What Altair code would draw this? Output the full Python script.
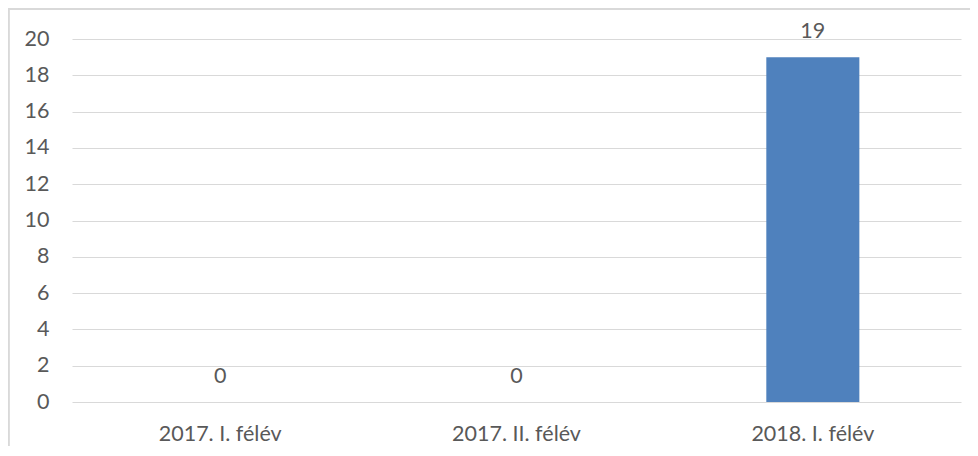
import altair as alt
import pandas as pd

categories = ["2017. I. félév", "2017. II. félév", "2018. I. félév"]
values = [0, 0, 19]

df = pd.DataFrame({"cat": categories, "val": values})

W, H = 889, 363
FONT = "Lato"
FS = 21.5
GRAY = "#595959"

x_enc = alt.X("cat:N", sort=categories, title=None,
              scale=alt.Scale(paddingInner=0.686, paddingOuter=0.343),
              axis=alt.Axis(labelAngle=0, labelFont=FONT, labelFontSize=FS,
                            labelColor=GRAY, ticks=False, domain=False,
                            labelPadding=21, grid=False))
y_enc = alt.Y("val:Q", title=None,
              scale=alt.Scale(domain=[0, 20], nice=False),
              axis=alt.Axis(values=list(range(0, 21, 2)), labelFont=FONT,
                            labelFontSize=FS, labelColor=GRAY, ticks=False,
                            domain=False, labelPadding=23, grid=True,
                            labelOverlap=False, labelBound=False,
                            gridColor="#D9D9D9", gridWidth=1.2))

base = alt.Chart(df).encode(x=x_enc, y=y_enc)

bars = base.mark_bar(color="#4F81BD")

labels = base.mark_text(font=FONT, fontSize=FS, color=GRAY,
                        baseline="middle", dy=-25).encode(text="val:Q")

border_top = alt.Chart(df).mark_rule(color="#D9D9D9", strokeWidth=1.5).encode(
    x=alt.value(-64), x2=alt.value(W + 9), y=alt.value(-30))
border_left = alt.Chart(df).mark_rule(color="#D9D9D9", strokeWidth=1.5).encode(
    x=alt.value(-63.25), y=alt.value(-30), y2=alt.value(H + 44))

chart = alt.layer(bars, labels, border_top, border_left).properties(
    width=W, height=H,
    autosize=alt.AutoSizeParams(type="none"),
    padding={"left": 64, "top": 31, "right": 9, "bottom": 44},
).configure_view(stroke=None)

chart.save("out.html", embed_options={"renderer": "svg", "actions": False})
